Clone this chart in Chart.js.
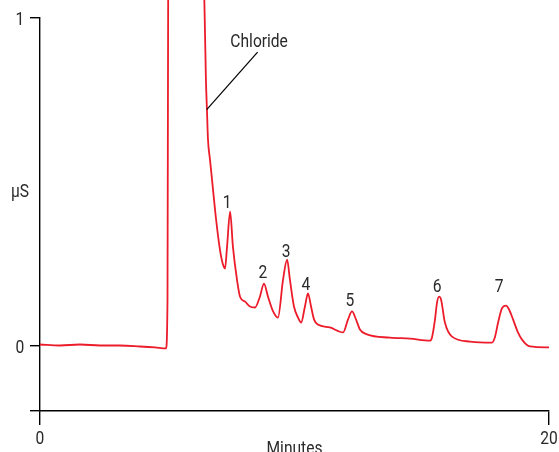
<!DOCTYPE html>
<html>
<head>
<meta charset="utf-8">
<script src="https://cdn.jsdelivr.net/npm/chart.js@4.4.1/dist/chart.umd.min.js"></script>
<style>
  html, body { margin: 0; padding: 0; background: #fff; }
  #wrap { width: 559px; height: 452px; }
</style>
</head>
<body>
<div id="wrap"><canvas id="myChart" width="559" height="452"></canvas></div>
<script>
// retention time (min) and conductivity (µS)
const minutes = [
  0, 0.79, 1.57, 2.36, 3.14, 3.93, 4.52, 4.95, 5.01, 5.04, 5.7,
  6.42, 6.52, 6.56, 6.60, 6.68, 6.76, 6.92, 7.07, 7.19, 7.27,
  7.35, 7.47, 7.58, 7.74, 7.86, 8.06, 8.25, 8.45, 8.64, 8.80,
  8.96, 9.16, 9.35, 9.55, 9.71, 9.82, 9.98, 10.14, 10.26, 10.41,
  10.53, 10.65, 10.77, 10.92, 11.39, 11.91, 12.10, 12.26, 12.42, 12.57,
  12.85, 13.75, 14.54, 15.32, 15.40, 15.52, 15.60, 15.68, 15.76, 15.91,
  16.19, 16.90, 17.76, 17.88, 18.00, 18.15, 18.31, 18.43, 18.59, 18.78,
  18.94, 19.25, 20.0
];
const signal = [
  0.003, 0.0, 0.003, 0.0, 0.0, -0.003, -0.006, -0.009, 0.14, 1.2, 2.5,
  1.2, 0.81, 0.72, 0.63, 0.567, 0.506, 0.384, 0.293, 0.247, 0.235,
  0.302, 0.409, 0.302, 0.201, 0.149, 0.134, 0.119, 0.116, 0.149, 0.189,
  0.149, 0.104, 0.085, 0.201, 0.262, 0.201, 0.119, 0.085, 0.070, 0.119,
  0.159, 0.119, 0.079, 0.064, 0.055, 0.040, 0.079, 0.104, 0.079, 0.049,
  0.034, 0.024, 0.021, 0.015, 0.024, 0.079, 0.131, 0.149, 0.140, 0.070,
  0.027, 0.012, 0.009, 0.027, 0.070, 0.113, 0.122, 0.110, 0.079, 0.040,
  0.018, -0.003, -0.006
];

const xTicks = [0, 20];
const xTickLabels = ["0", "20"];
const yTicks = [-0.2, 0, 1];
const yTickLabels = ["", "0", "1"];

const peakNames = ["1", "2", "3", "4", "5", "6", "7"];
const peakLabelX = [7.35, 8.76, 9.67, 10.45, 12.18, 15.6, 18.04];
const peakLabelY = [0.421, 0.207, 0.271, 0.168, 0.122, 0.162, 0.162];

const FONT = "Roboto, 'Liberation Sans', sans-serif";
const TEXT = "#2a2a2a";

const points = minutes.map((m, i) => ({ x: m, y: signal[i] }));

// condensed look: squeeze the text horizontally
const drawText = (ctx, str, px, py) => {
  ctx.save();
  ctx.translate(px, py);
  ctx.scale(0.82, 1);
  ctx.fillText(str, 0, 0);
  ctx.restore();
};

const annotations = {
  id: "annotations",
  afterDraw(chart) {
    const { ctx, scales } = chart;
    const x = scales.x, y = scales.y;
    ctx.save();
    ctx.fillStyle = TEXT;
    ctx.textAlign = "center";
    ctx.textBaseline = "alphabetic";
    ctx.font = "19px " + FONT;

    peakNames.forEach((n, i) => {
      drawText(ctx, n, x.getPixelForValue(peakLabelX[i]), y.getPixelForValue(peakLabelY[i]));
    });
    drawText(ctx, "Chloride", x.getPixelForValue(8.61), y.getPixelForValue(0.912));

    // tick labels
    yTicks.forEach((v, i) => {
      if (yTickLabels[i]) drawText(ctx, yTickLabels[i], 20, y.getPixelForValue(v) + 7);
    });
    xTicks.forEach((v, i) => {
      drawText(ctx, xTickLabels[i], x.getPixelForValue(v), 444);
    });
    drawText(ctx, "µS", 20, 197);
    drawText(ctx, "Minutes", (x.left + x.right) / 2, 454);

    // leader line to the chloride peak
    ctx.strokeStyle = "#000";
    ctx.lineWidth = 1.2;
    ctx.beginPath();
    ctx.moveTo(x.getPixelForValue(8.55), y.getPixelForValue(0.896));
    ctx.lineTo(x.getPixelForValue(6.55), y.getPixelForValue(0.72));
    ctx.stroke();
    ctx.restore();
  },
};

const ctx = document.getElementById("myChart").getContext("2d");

new Chart(ctx, {
  type: "line",
  data: {
    datasets: [
      {
        data: points,
        borderColor: "#ec1c2a",
        borderWidth: 1.8,
        pointRadius: 0,
        cubicInterpolationMode: "monotone",
        clip: false,
      },
    ],
  },
  options: {
    responsive: false,
    animation: false,
    layout: { padding: { top: 18, right: 10, left: 0, bottom: 0 } },
    plugins: {
      legend: { display: false },
      tooltip: { enabled: false },
    },
    scales: {
      x: {
        type: "linear",
        min: 0,
        max: 20,
        afterFit: (s) => { s.height = 41; },
        afterBuildTicks: (s) => { s.ticks = xTicks.map((v) => ({ value: v })); },
        border: { display: true, color: "#000", width: 1.4 },
        grid: { drawOnChartArea: false, color: "#000", tickLength: 14, lineWidth: 1.4 },
        ticks: { display: false },
      },
      y: {
        type: "linear",
        min: -0.2,
        max: 1,
        afterFit: (s) => { s.width = 40; },
        afterBuildTicks: (s) => { s.ticks = yTicks.map((v) => ({ value: v })); },
        border: { display: true, color: "#000", width: 1.4 },
        grid: { drawOnChartArea: false, color: "#000", tickLength: 10, lineWidth: 1.4 },
        ticks: { display: false },
      },
    },
  },
  plugins: [annotations],
});
</script>
</body>
</html>
